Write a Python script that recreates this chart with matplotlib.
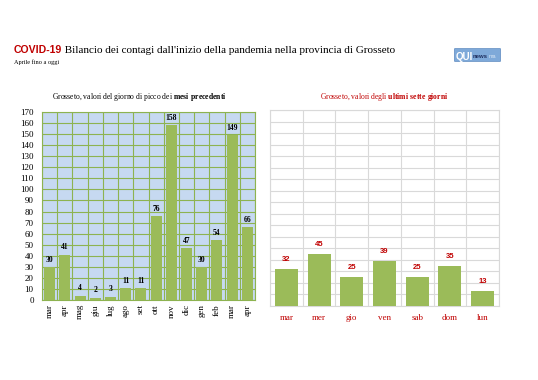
import numpy as np
import matplotlib
matplotlib.use("Agg")
import matplotlib.pyplot as plt
from matplotlib.patches import FancyBboxPatch
from matplotlib.text import Annotation

# data
mesi = ["mar", "apr", "mag", "giu", "lug", "ago", "set", "ott", "nov", "dic", "gen", "feb", "mar", "apr"]
picchi = [30, 41, 4, 2, 3, 11, 11, 76, 158, 47, 30, 54, 149, 66]
giorni = ["mar", "mer", "gio", "ven", "sab", "dom", "lun"]
ultimi = [32, 45, 25, 39, 25, 35, 13]

W, H = 538, 380
green = "#9bbb59"
red = "#c00000"
serif = "Liberation Serif"
sans = "Liberation Sans"

plt.rcParams["mathtext.fontset"] = "custom"
plt.rcParams["mathtext.rm"] = "Liberation Serif"
plt.rcParams["mathtext.bf"] = "Liberation Serif:bold"

fig = plt.figure(figsize=(W / 100, H / 100), dpi=100)
fig.patch.set_facecolor("white")


def px_axes(x0, y0, x1, y1):
    # pixel box (top-left origin) -> figure axes
    return fig.add_axes([x0 / W, 1 - y1 / H, (x1 - x0) / W, (y1 - y0) / H])


# title
t0 = fig.text(14 / W, 1 - 53 / H, "COVID-19", fontsize=7.6, color=red, fontweight="bold", family=sans)
fig.add_artist(Annotation(" Bilancio dei contagi dall'inizio della pandemia nella provincia di Grosseto",
                          xy=(1, 0), xycoords=t0, va="bottom", fontsize=8, color="black", family=serif))
fig.text(14 / W, 1 - 64 / H, "Aprile fino a oggi", fontsize=4.5, color="black", family=serif)

# logo
logo = FancyBboxPatch((455 / W, 1 - 61 / H), 45 / W, 12 / H, boxstyle="round,pad=0.001",
                      transform=fig.transFigure, facecolor="#7ea9d9", edgecolor="#5b88bf", lw=0.5)
fig.patches.append(logo)
fig.text(456 / W, 1 - 59.5 / H, "QUI", fontsize=7, color="white", fontweight="bold", family=sans)
fig.text(472.5 / W, 1 - 58.5 / H, "news", fontsize=4.3, color="#1f2f5f", fontweight="bold", family=sans)
fig.text(489 / W, 1 - 58.5 / H, "ma", fontsize=4, color="#d8e6f5", family=sans)

# left chart
ax1 = px_axes(42, 112, 255, 300)
x1 = np.arange(len(mesi))
ax1.set_facecolor("#c6d9f1")
ax1.bar(x1, picchi, width=0.72, color=green, zorder=3)
for xi, v in zip(x1, picchi):
    ax1.text(xi, v + 3, str(v), ha="center", va="bottom", fontsize=5.5, fontweight="bold",
             family=serif, color="black", zorder=4)
ax1.set_xlim(-0.5, len(mesi) - 0.5)
ax1.set_ylim(0, 170)
ax1.set_yticks(np.arange(0, 171, 10))
ax1.set_yticklabels([str(v) for v in range(0, 171, 10)], family=serif, fontsize=6.5)
ax1.set_xticks(x1)
ax1.set_xticklabels(mesi, rotation=90, family=serif, fontsize=6.5)
ax1.set_xticks(np.arange(-0.5, len(mesi), 1), minor=True)
ax1.tick_params(which="both", length=0)
ax1.tick_params(axis="y", pad=6)
ax1.tick_params(axis="x", pad=3)
ax1.grid(axis="y", color="#8db350", lw=0.8, zorder=1)
ax1.grid(axis="x", which="minor", color="#8db350", lw=0.8, zorder=1)
for s in ax1.spines.values():
    s.set_color("#8db350")
    s.set_linewidth(0.8)
fig.text(139 / W, 1 - 97 / H, "Grosseto, valori del giorno di picco dei $\\mathbf{mesi\\ precedenti}$",
         ha="center", va="center", fontsize=5.5, family=serif)

# right chart
ax2 = px_axes(270, 110, 499, 306)
x2 = np.arange(len(giorni))
ax2.bar(x2, ultimi, width=0.7, color=green, zorder=3)
for xi, v in zip(x2, ultimi):
    ax2.text(xi, v + 5, str(v), ha="center", va="bottom", fontsize=5.5, fontweight="bold",
             family=sans, color=red, zorder=4)
ax2.set_xlim(-0.5, len(giorni) - 0.5)
ax2.set_ylim(0, 170)
ax2.set_yticks(np.arange(0, 171, 10))
ax2.set_yticklabels([])
ax2.set_xticks(x2)
ax2.set_xticklabels(giorni, family=serif, fontsize=6.5, color=red)
ax2.set_xticks(np.arange(-0.5, len(giorni), 1), minor=True)
ax2.tick_params(which="both", length=0, pad=6)
ax2.grid(axis="y", color="#d9d9d9", lw=0.8, zorder=1)
ax2.grid(axis="x", which="minor", color="#d9d9d9", lw=0.8, zorder=1)
for s in ax2.spines.values():
    s.set_color("#d9d9d9")
    s.set_linewidth(0.8)
fig.text(384 / W, 1 - 97 / H, "Grosseto, valori degli $\\mathbf{ultimi\\ sette\\ giorni}$",
         ha="center", va="center", fontsize=5.5, family=serif, color=red)

fig.savefig("out.png", dpi=100, facecolor="white")
